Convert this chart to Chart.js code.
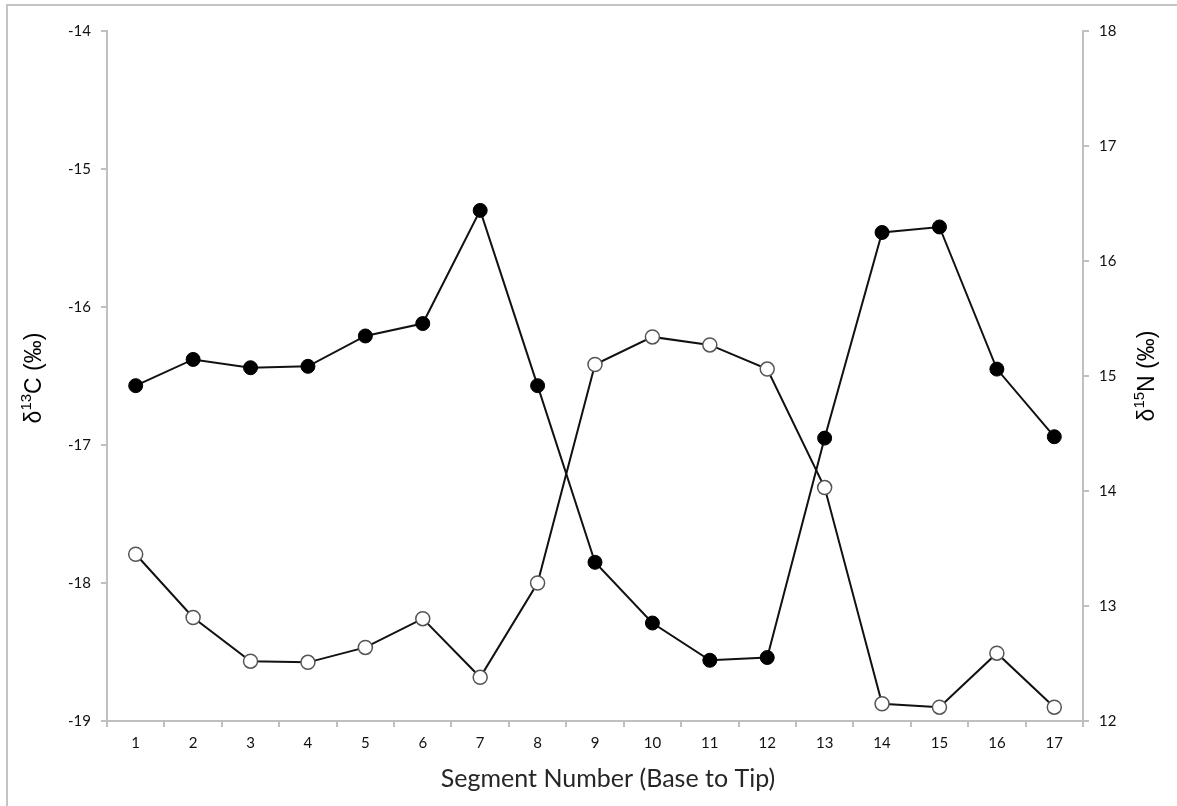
<!DOCTYPE html>
<html>
<head>
<meta charset="utf-8">
<script src="https://cdn.jsdelivr.net/npm/chart.js@4"></script>
<style>
  html, body { margin: 0; padding: 0; background: #fff; }
  #frame { position: absolute; left: 6px; top: 4px; width: 1250px; height: 900px; border: 2px solid #c4c4c4; }
  #wrap { position: absolute; left: 0; top: 0; width: 1177px; height: 806px; }
</style>
</head>
<body>
<div id="frame"></div>
<div id="wrap"><canvas id="c" width="1177" height="806"></canvas></div>
<script>
const segments = ['1','2','3','4','5','6','7','8','9','10','11','12','13','14','15','16','17'];
const d13C = [-16.57, -16.38, -16.44, -16.43, -16.21, -16.12, -15.30, -16.57, -17.85, -18.29, -18.56, -18.54, -16.95, -15.46, -15.42, -16.45, -16.94];
const d15N = [13.45, 12.90, 12.52, 12.51, 12.64, 12.89, 12.38, 13.20, 15.10, 15.34, 15.27, 15.06, 14.03, 12.15, 12.12, 12.59, 12.12];
const leftTicks = [-19, -18, -17, -16, -15, -14];
const rightTicks = [12, 13, 14, 15, 16, 17, 18];
const xTitle = 'Segment Number (Base to Tip)';
const leftTitle = ['δ', '13', 'C (‰)'];
const rightTitle = ['δ', '15', 'N (‰)'];

const axisColor = '#c0c0c0';
const tickFont = { family: 'Lato', size: 15 };

const titlePlugin = {
  id: 'titles',
  afterDraw(chart) {
    const ctx = chart.ctx;
    const ca = chart.chartArea;
    const midY = (ca.top + ca.bottom) / 2 + 2;
    function drawRot(parts, cx, cy) {
      ctx.save();
      ctx.translate(cx, cy);
      ctx.rotate(-Math.PI / 2);
      const big = '23px "Liberation Sans", Arial, sans-serif';
      const small = '15px "Liberation Sans", Arial, sans-serif';
      ctx.font = big; const w0 = ctx.measureText(parts[0]).width;
      ctx.font = small; const w1 = ctx.measureText(parts[1]).width;
      ctx.font = big; const w2 = ctx.measureText(parts[2]).width;
      const total = w0 + w1 + w2;
      let x = -total / 2;
      ctx.fillStyle = '#000';
      ctx.textBaseline = 'middle';
      ctx.textAlign = 'left';
      ctx.font = big; ctx.fillText(parts[0], x, 0); x += w0;
      ctx.font = small; ctx.fillText(parts[1], x, -8); x += w1;
      ctx.font = big; ctx.fillText(parts[2], x, 0);
      ctx.restore();
    }
    drawRot(leftTitle, 35, midY);
    drawRot(rightTitle, 1148, midY - 2);
    ctx.save();
    ctx.font = '25px Lato, sans-serif';
    ctx.fillStyle = '#262626';
    ctx.textAlign = 'center';
    ctx.textBaseline = 'middle';
    ctx.fillText(xTitle, 608, 779);
    ctx.restore();
  }
};

new Chart(document.getElementById('c'), {
  type: 'line',
  data: {
    labels: segments,
    datasets: [
      {
        label: 'δ13C',
        data: d13C,
        yAxisID: 'yL',
        borderColor: '#111',
        borderWidth: 2,
        backgroundColor: '#000',
        pointBackgroundColor: '#000',
        pointBorderColor: '#000',
        pointBorderWidth: 1,
        pointRadius: 7,
        tension: 0
      },
      {
        label: 'δ15N',
        data: d15N,
        yAxisID: 'yR',
        borderColor: '#111',
        borderWidth: 2,
        backgroundColor: '#fff',
        pointBackgroundColor: '#fff',
        pointBorderColor: '#555',
        pointBorderWidth: 1.5,
        pointRadius: 7,
        tension: 0
      }
    ]
  },
  options: {
    responsive: false,
    animation: false,
    layout: { padding: { top: 31, left: 0, right: 0, bottom: 0 } },
    plugins: { legend: { display: false }, tooltip: { enabled: false } },
    scales: {
      x: {
        type: 'category',
        offset: true,
        grid: { offset: true, drawOnChartArea: false, drawTicks: true, tickLength: 6, color: axisColor, lineWidth: 2 },
        border: { display: true, color: axisColor, width: 2 },
        ticks: { font: tickFont, color: '#111', padding: 7, maxRotation: 0, autoSkip: false },
        afterFit(s) { s.height = 85; }
      },
      yL: {
        position: 'left',
        min: -19, max: -14,
        afterBuildTicks(s) { s.ticks = leftTicks.map(v => ({ value: v })); },
        grid: { drawOnChartArea: false, drawTicks: true, tickLength: 6, color: axisColor, lineWidth: 2 },
        border: { display: true, color: axisColor, width: 2 },
        ticks: { font: tickFont, color: '#111', padding: 10 },
        afterFit(s) { s.width = 107; }
      },
      yR: {
        position: 'right',
        min: 12, max: 18,
        afterBuildTicks(s) { s.ticks = rightTicks.map(v => ({ value: v })); },
        grid: { drawOnChartArea: false, drawTicks: true, tickLength: 6, color: axisColor, lineWidth: 2 },
        border: { display: true, color: axisColor, width: 2 },
        ticks: { font: tickFont, color: '#111', padding: 10 },
        afterFit(s) { s.width = 94; }
      }
    }
  },
  plugins: [titlePlugin]
});
</script>
</body>
</html>
